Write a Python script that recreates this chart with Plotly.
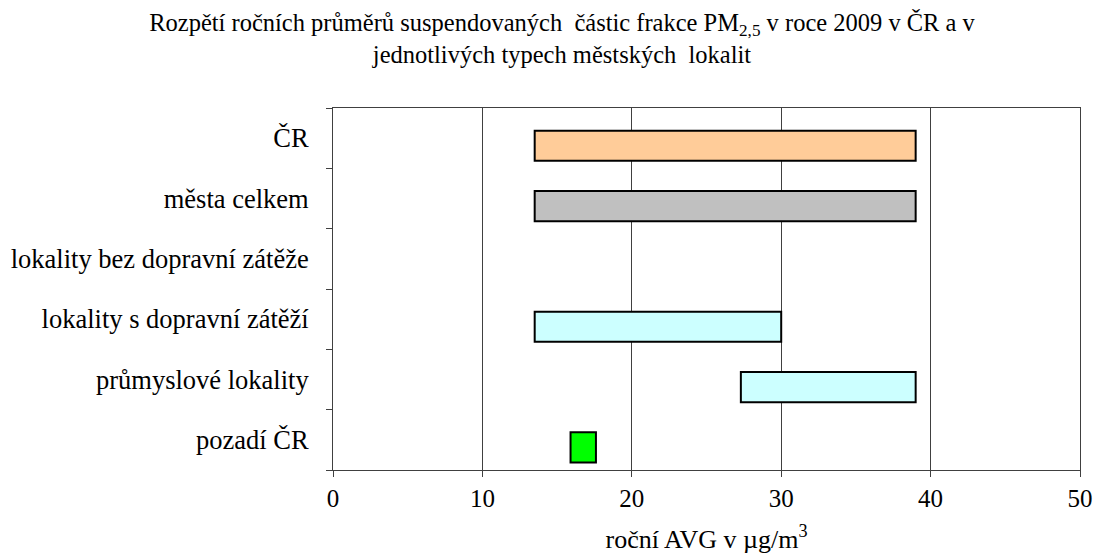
import plotly.graph_objects as go

categories = ["ČR", "města celkem", "lokality bez dopravní zátěže",
              "lokality s dopravní zátěží", "průmyslové lokality", "pozadí ČR"]
low_values = [13.5, 13.5, None, 13.5, 27.3, 15.9]
high_values = [39.0, 39.0, None, 30.0, 39.0, 17.6]
bar_colors = ["#FFCC99", "#C0C0C0", "#CCFFFF", "#CCFFFF", "#CCFFFF", "#00FF00"]
x_ticks = [0, 10, 20, 30, 40, 50]

widths = [None if (l is None or h is None) else h - l for l, h in zip(low_values, high_values)]

FONT = "Liberation Serif"

W, H = 1093, 559

fig = go.Figure()
fig.add_trace(go.Bar(
    y=categories,
    x=widths,
    base=low_values,
    orientation="h",
    width=0.5,
    offset=-0.375,
    marker=dict(color=bar_colors, line=dict(color="black", width=2)),
    hoverinfo="skip",
))

fig.update_layout(
    width=W, height=H,
    margin=dict(l=333, r=13, t=108, b=89, autoexpand=False),
    paper_bgcolor="white", plot_bgcolor="white",
    showlegend=False,
    font=dict(family=FONT, size=25, color="black"),
    title=dict(
        text="Rozpětí ročních průměrů suspendovaných  částic frakce PM<sub>2,5</sub> v roce 2009 v ČR a v<br>jednotlivých typech městských  lokalit",
        x=562 / W, xanchor="center", y=1 - 31 / H, yanchor="top",
        font=dict(family=FONT, size=24.5, color="black"),
    ),
)

fig.update_xaxes(
    range=[0, 50], tickvals=x_ticks, ticktext=[str(v) for v in x_ticks],
    showgrid=True, gridcolor="#404040", gridwidth=1,
    showline=True, linecolor="#404040", linewidth=1, mirror=True,
    ticks="outside", ticklen=6, tickcolor="#404040",
    tickfont=dict(family=FONT, size=25),
    zeroline=False,
    title=dict(text="roční AVG v µg/m<sup>3</sup>", font=dict(family=FONT, size=26), standoff=18),
)
fig.update_yaxes(
    categoryorder="array", categoryarray=categories[::-1],
    autorange=False, range=[-0.5, len(categories) - 0.5],
    tickson="boundaries",
    showgrid=False,
    showline=True, linecolor="#404040", linewidth=1, mirror=True,
    ticks="outside", ticklen=6, tickcolor="#404040",
    tickfont=dict(family=FONT, size=26.5),
    ticklabelstandoff=18,
)

fig.write_html(
    "out.html",
    config={"displayModeBar": False},
    post_script="document.body.style.margin='0';document.body.style.overflow='hidden';",
)
